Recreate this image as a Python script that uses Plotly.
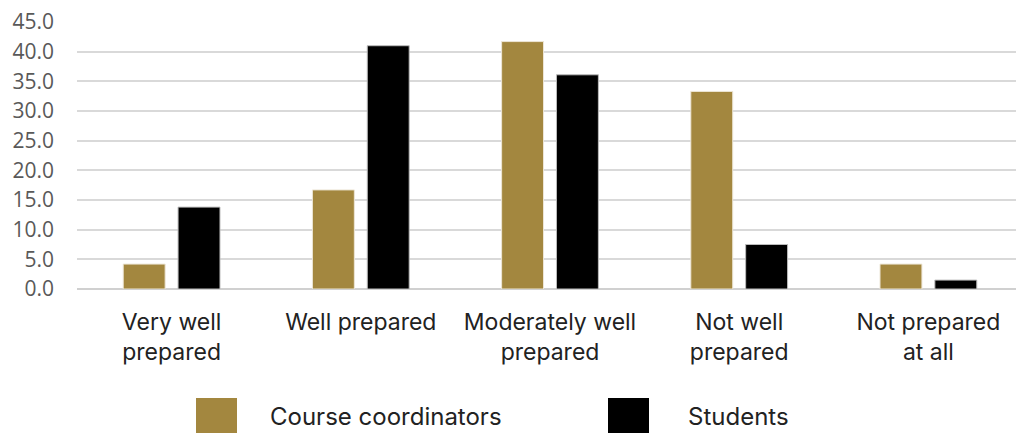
import plotly.graph_objects as go

categories = ["Very well<br>prepared", "Well prepared", "Moderately well<br>prepared",
              "Not well<br>prepared", "Not prepared<br>at all"]
coordinators = [4.2, 16.7, 41.7, 33.3, 4.2]
students = [13.8, 41.0, 36.1, 7.5, 1.5]
series_names = ["Course coordinators", "Students"]
colors = ["#A3873F", "#000000"]
yticks = [0, 5, 10, 15, 20, 25, 30, 35, 40, 45]

label_font = "Inter, 'Noto Sans', sans-serif"
tick_font = "'Open Sans', sans-serif"

fig = go.Figure()
for name, vals, col in zip(series_names, [coordinators, students], colors):
    fig.add_trace(go.Bar(
        x=list(range(len(categories))), y=vals, name=name,
        marker=dict(color=col, line=dict(color="#EDE6D6" if col != "#000000" else "#BBBBBB", width=1)),
        showlegend=False,
    ))

fig.update_layout(
    width=1016, height=433,
    margin=dict(l=77, r=0, t=22, b=144),
    paper_bgcolor="white", plot_bgcolor="white",
    barmode="group", bargap=0.42, bargroupgap=0.236,
    font=dict(family=label_font, color="#222222"),
    xaxis=dict(
        tickmode="array", tickvals=list(range(len(categories))), ticktext=categories,
        range=[-0.5, 4.463], showgrid=False, zeroline=False, showline=False,
        tickfont=dict(size=23, color="#222222", family=label_font), ticks="", ticklabelstandoff=17,
    ),
    yaxis=dict(
        range=[0, 45], tickmode="array", tickvals=yticks,
        ticktext=[f"{v:.1f}" for v in yticks],
        showgrid=True, gridcolor="#D9D9D9", gridwidth=1.5,
        zeroline=True, zerolinecolor="#D0D0D0", zerolinewidth=1.5,
        showline=False, tickfont=dict(size=21, color="#595959", family=tick_font),
        ticks="", ticklabelstandoff=22,
    ),
)

# custom legend with large square swatches
legend_items = [(196, 268), (608, 686)]
for (sx, tx), name, col in zip(legend_items, series_names, colors):
    fig.add_shape(type="rect", xref="paper", yref="paper",
                  x0=(sx - 77) / 939, x1=(sx + 41 - 77) / 939,
                  y0=(289 - 433) / 267, y1=(289 - 398) / 267,
                  fillcolor=col, line=dict(width=0))
    fig.add_annotation(xref="paper", yref="paper", x=(tx - 77) / 939, y=(289 - 416) / 267,
                       text=name, showarrow=False, xanchor="left", yanchor="middle",
                       font=dict(size=24, color="#222222", family=label_font))

fig.write_html("out.html", config={"displayModeBar": False})
with open("out.html", "r", encoding="utf-8") as f:
    html = f.read()
html = html.replace("<head>", "<head><style>html,body{margin:0;padding:0;overflow:hidden}</style>", 1)
with open("out.html", "w", encoding="utf-8") as f:
    f.write(html)
